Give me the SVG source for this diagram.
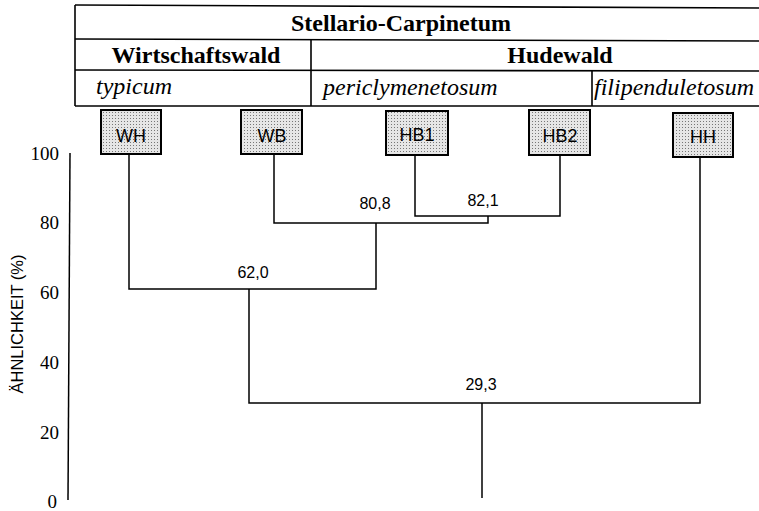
<svg xmlns="http://www.w3.org/2000/svg" width="759" height="511" viewBox="0 0 759 511">
<style>
.tl{stroke:#000;stroke-width:1.6;fill:none}
.cn{stroke:#000;stroke-width:1.5;fill:none}
.bx{fill:url(#dots);stroke:#000;stroke-width:2}
.hb{font-family:"Liberation Serif",serif;font-weight:bold;font-size:24px}
.it{font-family:"Liberation Serif",serif;font-style:italic;font-size:24px}
.nl{font-family:"Liberation Sans",Arial,sans-serif;font-size:18px;text-anchor:middle}
.vl{font-family:"Liberation Sans",Arial,sans-serif;font-size:16px;text-anchor:middle}
.tk{font-family:"Liberation Serif",serif;font-size:19px;text-anchor:end}
.ax{font-family:"Liberation Sans",Arial,sans-serif;font-size:16.5px;text-anchor:middle}
</style>
<defs>
<pattern id="dots" width="3" height="3" patternUnits="userSpaceOnUse">
<rect width="3" height="3" fill="#e6e6e6"/>
<rect x="1" y="1" width="1" height="1" fill="#777"/>
</pattern>
</defs>
<rect width="759" height="511" fill="#fff"/>
<g id="table">
<line class="tl" x1="75" y1="5" x2="759" y2="8"/>
<line class="tl" x1="75" y1="5" x2="75" y2="106"/>
<line class="tl" x1="75" y1="39" x2="759" y2="41"/>
<line class="tl" x1="75" y1="70" x2="759" y2="71"/>
<line class="tl" x1="75" y1="106" x2="759" y2="106"/>
<line class="tl" x1="311" y1="39" x2="311" y2="106"/>
<line class="tl" x1="592" y1="70" x2="592" y2="106"/>
<text class="hb" x="401" y="31" text-anchor="middle">Stellario-Carpinetum</text>
<text class="hb" x="196" y="63" text-anchor="middle">Wirtschaftswald</text>
<text class="hb" x="560" y="63" text-anchor="middle">Hudewald</text>
<text class="it" x="96" y="94">typicum</text>
<text class="it" x="323" y="95">periclymenetosum</text>
<text class="it" x="594" y="95">filipenduletosum</text>
</g>
<g id="axis">
<line class="cn" x1="70" y1="153" x2="68" y2="500"/>
<text class="tk" x="59" y="160">100</text>
<text class="tk" x="59" y="229">80</text>
<text class="tk" x="59" y="299">60</text>
<text class="tk" x="59" y="369">40</text>
<text class="tk" x="59" y="439">20</text>
<text class="tk" x="57" y="508">0</text>
<text class="ax" transform="translate(23,324) rotate(-90)">ÄHNLICHKEIT (%)</text>
</g>
<g id="connectors">
<path class="cn" d="M415 155V216H560V155"/>
<path class="cn" d="M274 154V223H488V216"/>
<path class="cn" d="M129 154V289H376V223"/>
<path class="cn" d="M700 157V403H249V289"/>
<path class="cn" d="M482 403V498"/>
<text class="vl" x="375" y="209">80,8</text>
<text class="vl" x="483" y="206">82,1</text>
<text class="vl" x="253" y="278">62,0</text>
<text class="vl" x="481" y="390">29,3</text>
</g>
<g id="WH"><rect class="bx" x="101" y="110" width="60" height="44"/><text class="nl" x="131" y="142">WH</text></g>
<g id="WB"><rect class="bx" x="241" y="110" width="61" height="44"/><text class="nl" x="272" y="142">WB</text></g>
<g id="HB1"><rect class="bx" x="386" y="111" width="62" height="44"/><text class="nl" x="417" y="141">HB1</text></g>
<g id="HB2"><rect class="bx" x="529" y="110" width="61" height="45"/><text class="nl" x="560" y="142">HB2</text></g>
<g id="HH"><rect class="bx" x="673" y="113" width="60" height="44"/><text class="nl" x="703" y="143">HH</text></g>
</svg>
